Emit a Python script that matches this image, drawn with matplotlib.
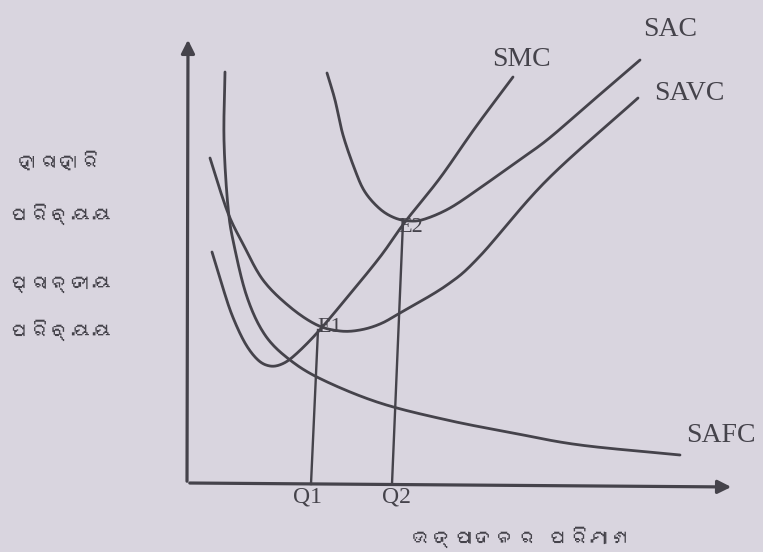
import numpy as np
import matplotlib
matplotlib.use('Agg')
import matplotlib.pyplot as plt
from matplotlib import font_manager
from matplotlib.ft2font import FT2Font

# curves: quantity (q) and cost (c), origin at the axes corner
smc_q = [25, 35, 45, 58, 71, 83, 95, 108, 130, 158, 193, 218, 253, 288, 326]
smc_c = [232, 199, 169, 141, 124, 118, 120, 129, 151, 184, 227, 262, 306, 356, 407]

savc_q = [23, 33, 43, 56, 76, 103, 130, 153, 173, 193, 213, 260, 293, 360, 451]
savc_c = [326, 294, 266, 240, 204, 177, 159, 153, 154, 160, 171, 199, 228, 304, 386]

sac_q = [140, 148, 156, 168, 178, 193, 208, 223, 238, 263, 293, 328, 360, 403, 453]
sac_c = [411, 384, 349, 314, 292, 275, 266, 263, 265, 276, 296, 321, 344, 381, 424]

safc_q = [38, 37, 41, 47, 60, 78, 103, 136, 193, 260, 326, 393, 493]
safc_c = [412, 344, 277, 239, 187, 149, 124, 104, 81, 64, 51, 39, 29]

# dropped lines at Q1 and Q2 (the scan is a little tilted)
drop_top_q = [131, 216]
drop_top_c = [154, 262]
drop_bot_q = [124, 205]
drop_labels = ['Q1', 'Q2']
point_labels = ['E1', 'E2']

ylabel_lines = ['ହାରାହାରି', 'ପରିବ୍ୟୟ', 'ପ୍ରାନ୍ତୀୟ', 'ପରିବ୍ୟୟ']
xlabel = 'ଉତ୍ପାଦନର ପରିମାଣ'

bg = '#d9d5df'
ink = '#45434b'


def smooth(xs, ys, n=20):
    # catmull-rom through the read points, just for a smooth pen line
    p = np.column_stack([xs, ys]).astype(float)
    p = np.vstack([2 * p[0] - p[1], p, 2 * p[-1] - p[-2]])
    out = []
    t = np.linspace(0, 1, n, endpoint=False)[:, None]
    for i in range(1, len(p) - 2):
        p0, p1, p2, p3 = p[i - 1], p[i], p[i + 1], p[i + 2]
        out.append(0.5 * ((2 * p1) + (-p0 + p2) * t + (2 * p0 - 5 * p1 + 4 * p2 - p3) * t ** 2
                          + (-p0 + 3 * p1 - 3 * p2 + p3) * t ** 3))
    out.append(p[-2][None, :])
    out = np.vstack(out)
    return out[:, 0], out[:, 1]


# look for any installed font that can draw Odia
odia = []
for f in font_manager.fontManager.ttflist:
    try:
        if 0x0B30 in FT2Font(f.fname).get_charmap():
            odia.append(f.name)
    except Exception:
        pass
odia_family = list(dict.fromkeys(odia)) + ['DejaVu Sans']
serif = ['Liberation Serif', 'DejaVu Serif']

fig = plt.figure(figsize=(7.63, 5.52), dpi=100, facecolor=bg)
ax = fig.add_axes([0, 0, 1, 1])
ax.set_facecolor(bg)
ax.set_xlim(-187, 576)
ax.set_ylim(-68, 484)
ax.axis('off')

# axes with arrows
ax.annotate('', xy=(1, 447), xytext=(0, 0),
            arrowprops=dict(arrowstyle='-|>', color=ink, lw=2.3, mutation_scale=20))
ax.annotate('', xy=(547, -3), xytext=(0, 1),
            arrowprops=dict(arrowstyle='-|>', color=ink, lw=2.3, mutation_scale=20))

for q, c in [(smc_q, smc_c), (savc_q, savc_c), (sac_q, sac_c), (safc_q, safc_c)]:
    x, y = smooth(q, c)
    ax.plot(x, y, color=ink, lw=2.0, solid_capstyle='round')

label_kw = dict(ha='center', va='center', color=ink, family=serif)
for qt, ct, qb, lab, dx in zip(drop_top_q, drop_top_c, drop_bot_q, drop_labels, [-3, 4]):
    ax.plot([qt, qb], [ct, 0], color=ink, lw=1.7)
    ax.text(qb + dx, -13, lab, fontsize=17, **label_kw)

ax.text(143, 157, point_labels[0], fontsize=16, **label_kw)
ax.text(224, 257, point_labels[1], fontsize=16, **label_kw)

ax.text(334, 425, 'SMC', fontsize=20, **label_kw)
ax.text(483, 455, 'SAC', fontsize=20, **label_kw)
ax.text(502, 391, 'SAVC', fontsize=20, **label_kw)
ax.text(534, 48, 'SAFC', fontsize=20, **label_kw)

for txt, c in zip(ylabel_lines, [322, 270, 200, 154]):
    ax.text(-127, c, txt, ha='center', va='center', fontsize=15, color=ink, family=odia_family)
ax.text(335, -53, xlabel, ha='center', va='center', fontsize=15, color=ink, family=odia_family)

fig.savefig('out.png', dpi=100, facecolor=bg)
